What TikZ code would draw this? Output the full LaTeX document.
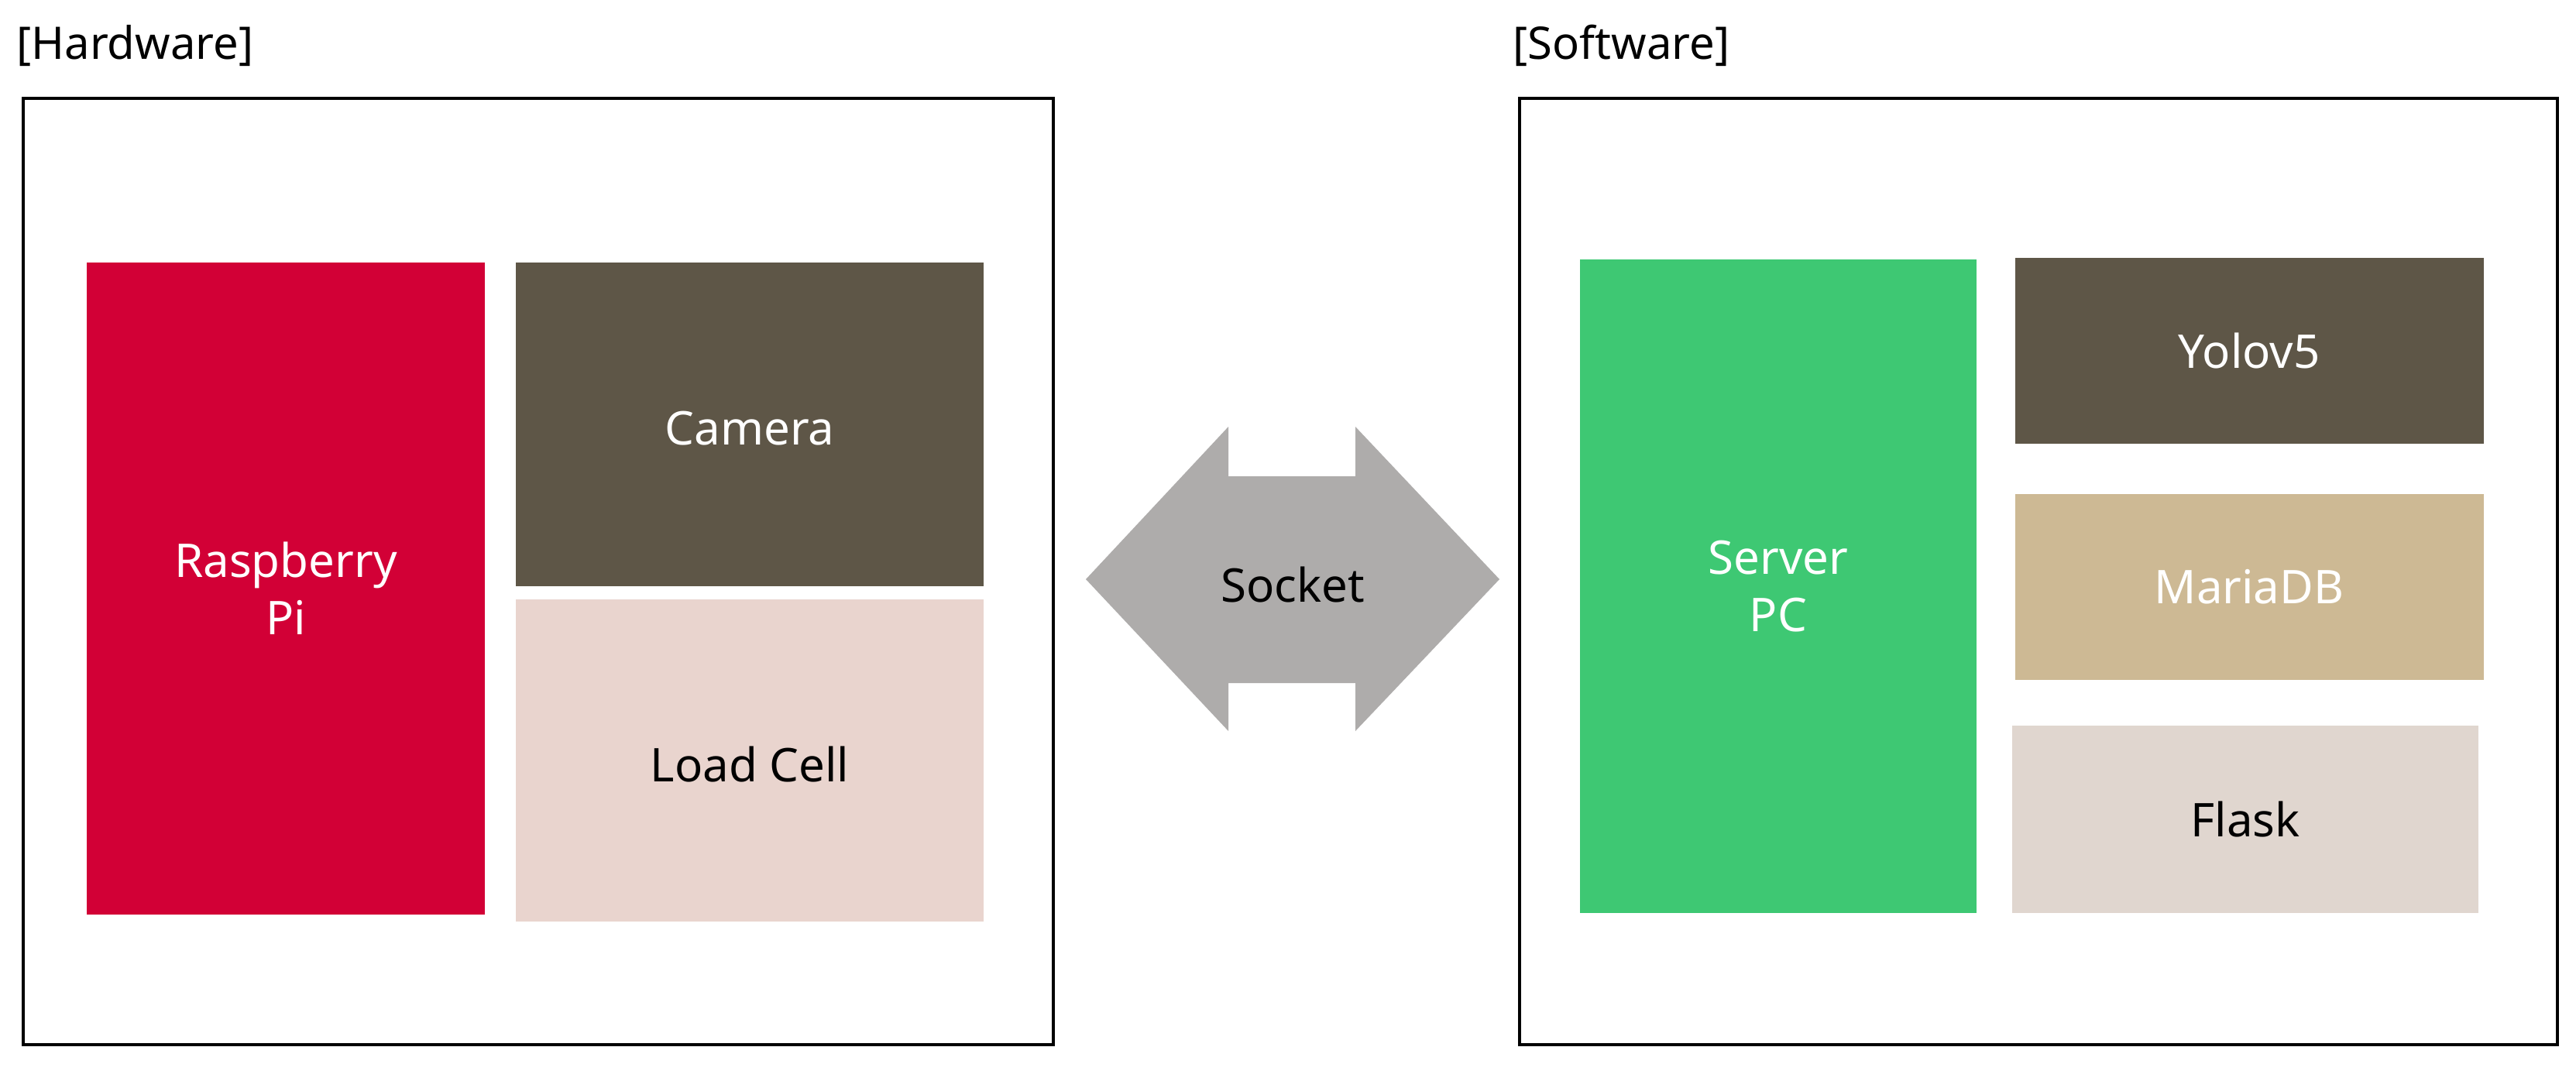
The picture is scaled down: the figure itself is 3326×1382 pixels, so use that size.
\documentclass[tikz,border=0pt]{standalone}
\usepackage{fontspec}
\setmainfont{Noto Sans}
\definecolor{rasp}{HTML}{D20036}
\definecolor{cam}{HTML}{5E5647}
\definecolor{load}{HTML}{E9D4CE}
\definecolor{srv}{HTML}{3EC873}
\definecolor{maria}{HTML}{CDB994}
\definecolor{flask}{HTML}{E0D6CF}
\definecolor{arr}{HTML}{AEACAB}
\begin{document}
\begin{tikzpicture}[x=1pt,y=-1pt,
  frame/.style={draw=black,line width=4pt},
  blk/.style={font=\fontsize{60}{74}\selectfont,align=center},
  lbl/.style={font=\fontsize{58}{70}\selectfont,anchor=west}]
\useasboundingbox (0,0) rectangle (3326,1382);
\fill[white] (0,0) rectangle (3326,1382);
\node[lbl] (hw) at (18,59) {[Hardware]};
\node[lbl] (sw) at (1950,59) {[Software]};
\draw[frame] (30,127) rectangle (1360,1349);
\draw[frame] (1962,127) rectangle (3302,1349);
% hardware
\fill[rasp] (112,339) rectangle (626,1181);
\node[blk,text=white] (rp) at (369,760) {Raspberry\\Pi};
\fill[cam] (666,339) rectangle (1270,757);
\node[blk,text=white] (cm) at (968,553) {Camera};
\fill[load] (666,774) rectangle (1270,1190);
\node[blk,text=black] (lc) at (968,987) {Load Cell};
% software
\fill[srv] (2040,335) rectangle (2552,1179);
\node[blk,text=white] (sp) at (2296,757) {Server\\PC};
\fill[cam] (2602,333) rectangle (3207,573);
\node[blk,text=white] (yo) at (2904,453) {Yolov5};
\fill[maria] (2602,638) rectangle (3207,878);
\node[blk,text=white] (md) at (2904,758) {MariaDB};
\fill[flask] (2598,937) rectangle (3200,1179);
\node[blk,text=black] (fl) at (2899,1058) {Flask};
% arrow
\fill[arr] (1402,748) -- (1586,551) -- (1586,615) -- (1750,615) -- (1750,551) -- (1936,748)
  -- (1750,944) -- (1750,882) -- (1586,882) -- (1586,944) -- cycle;
\node[blk,text=black] (so) at (1669,755) {Socket};
\end{tikzpicture}
\end{document}
